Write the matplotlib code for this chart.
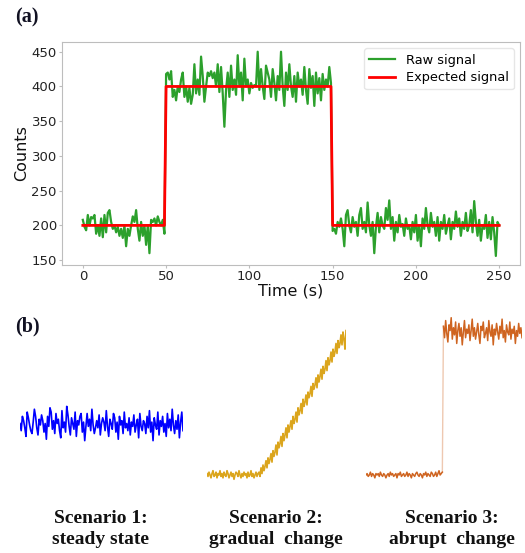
import numpy as np
import matplotlib
matplotlib.use("Agg")
import matplotlib.pyplot as plt

W, H = 525, 553

# ---- panel (a) data: counts per second ----
raw_counts = [
  208,198,193,215,200,212,210,215,188,200,
  185,210,183,215,190,218,222,205,195,200,
  190,198,185,195,182,200,170,195,185,200,
  213,205,222,195,178,205,185,200,172,200,
  160,208,205,210,200,213,205,200,208,188,
  418,420,410,422,385,395,380,400,392,410,
  420,385,400,378,398,375,388,432,390,410,
  388,443,415,378,400,420,415,422,412,420,
  400,432,392,428,390,342,395,420,385,430,
  395,410,388,445,400,420,380,440,400,410,
  390,405,398,402,400,450,395,425,400,382,
  430,420,410,385,425,405,380,415,395,450,
  400,372,420,395,432,400,385,415,378,420,
  400,410,388,428,395,375,425,398,415,372,
  420,390,412,380,418,395,410,400,428,405,
  192,195,188,205,198,210,195,170,215,222,
  200,190,212,198,205,185,215,225,195,205,
  190,233,200,185,205,160,198,218,190,212,
  200,195,225,208,236,195,212,178,205,190,
  215,198,202,185,210,195,200,180,205,190,
  215,178,200,170,210,195,225,200,190,218,
  198,205,185,212,178,205,195,215,188,200,
  210,180,205,195,220,198,210,185,205,195,
  218,192,200,222,190,235,205,185,208,178,
  200,195,215,182,205,180,212,190,156,205,
  200]
time_s = np.arange(len(raw_counts))

expected_t = [0, 49, 50, 149, 150, 250]
expected_counts = [200, 200, 400, 400, 200, 200]

xticks = [0, 50, 100, 150, 200, 250]
yticks = [150, 200, 250, 300, 350, 400, 450]

# ---- panel (b) data: three scenario traces (arbitrary level units) ----
steady = [36,31,41,38,33,27,44,40,35,31,29,37,46,41,33,28,39,35,42,38,
          30,36,25,41,34,47,44,32,38,29,43,36,39,31,26,45,33,37,30,48,
          42,34,28,40,36,32,44,27,38,35,41,43,30,37,24,34,43,34,39,31,
          46,35,29,33,38,33,42,28,36,40,37,31,45,34,27,39,36,32,43,40,
          30,37,25,41,35,38,29,44,33,36,31,40,28,37,34,42,30,35,39,26,
          43,34,31,38,36,29,41,33,45,30,37,24,40,35,32,44,28,38,34,41,
          30,36,27,43,33,39,31,46,35,29,38,32,42,26,37,44,31]

gradual = [1,-1,2,0,-2,1,3,-1,0,2,-2,1,0,3,-1,1,-2,2,0,-1,
           3,1,-2,0,2,-1,1,-3,0,2,1,-1,3,0,-2,1,-1,2,0,1,
           -2,2,-1,0,3,-1,1,-2,0,2,-1,1,
           2,-1,5,1,7,3,6,10,5,12,8,11,15,9,17,13,16,21,14,23,
           19,22,27,20,29,24,28,33,26,35,30,34,38,32,41,36,39,44,37,47,
           42,45,50,43,53,48,51,56,49,58,54,57,62,55,64,60,63,68,61,70,
           65,69,74,67,76,71,74,80,73,82,77,80,86,79,88,83,86,92,85,94,
           89,92,98,91,100,95,88,101]

abrupt_low = [0,1,-1,0,2,-1,1,0,-2,1,0,1,-1,2,0,-1,1,0,-2,0,
              1,-1,2,0,1,-1,0,1,-2,1,0,2,-1,0,1,-1,0,2,-1,1,
              0,-2,1,0,-1,1,2,0,-1,1,0,-2,1,0,2,-1,1,0,-1,2,
              1,-1,0,2,-1,1,3,0,1,2]
abrupt_high = [104,96,108,99,93,105,101,110,95,103,98,107,92,101,106,97,103,91,100,108,
               96,102,99,105,94,101,109,97,103,95,100,106,98,92,104,101,107,96,99,103,
               94,108,100,97,105,91,102,98,106,100,95,104,99,109,96,101,93,105,100,98,
               107,95,102,99,104,92,101,97,106,99,103,96]

scenario_labels = ["Scenario 1:\nsteady state",
                   "Scenario 2:\ngradual  change",
                   "Scenario 3:\nabrupt  change"]


def px_axes(fig, x0, y0, x1, y1):
  # pixel box (top-left origin) -> figure axes
  return fig.add_axes([x0 / W, 1 - y1 / H, (x1 - x0) / W, (y1 - y0) / H])


fig = plt.figure(figsize=(W / 100, H / 100), dpi=100)

# ---------------- (a) ----------------
ax = px_axes(fig, 62, 42, 520, 265)
ax.plot(time_s, raw_counts, color="#2ca02c", lw=1.6, label="Raw signal")
ax.plot(expected_t, expected_counts, color="red", lw=2, label="Expected signal")
ax.set_xlim(-12.5, 262.5)
ax.set_ylim(143, 464)
ax.set_xticks(xticks)
ax.set_yticks(yticks)
for s in ax.spines.values():
  s.set_color("#bdbdbd")
ax.tick_params(colors="#bdbdbd", labelcolor="#222222", labelsize=9.5,
               length=2.5, pad=1.2)
ax.set_xlabel("Time (s)", fontsize=11.5, color="#111111", labelpad=0.5)
ax.set_ylabel("Counts", fontsize=11.5, color="#111111", labelpad=2)
leg = ax.legend(loc="upper right", fontsize=9.3, handlelength=2.0,
                borderpad=0.4, labelspacing=0.35)
leg.get_frame().set_edgecolor("#e0e0e0")

fig.text(15 / W, 1 - 17 / H, "(a)", family="Liberation Serif", weight="bold",
         fontsize=14.5, va="center", ha="left", color="#111122")
fig.text(15 / W, 1 - 326 / H, "(b)", family="Liberation Serif", weight="bold",
         fontsize=14.5, va="center", ha="left", color="#111122")

# ---------------- (b) ----------------
ylo, yhi = (475 - 500) / 1.43, (475 - 300) / 1.43

a1 = px_axes(fig, 20, 300, 183, 500)
a1.plot(np.arange(len(steady)), steady, color="#0000ff", lw=1.2)
a1.set_xlim(0, len(steady) - 1)

a2 = px_axes(fig, 207, 300, 346, 500)
a2.plot(np.arange(len(gradual)), gradual, color="#dba51c", lw=1.2)
a2.set_xlim(0, len(gradual) - 1)

a3 = px_axes(fig, 366, 300, 522, 500)
n_low = len(abrupt_low)
x_low = np.arange(n_low)
x_high = np.arange(n_low, n_low + len(abrupt_high))
a3.plot(x_low, abrupt_low, color="#cf6420", lw=1.1)
a3.plot([x_low[-1], x_high[0]], [abrupt_low[-1], abrupt_high[0]],
        color="#cf6420", lw=1.0, alpha=0.35)
a3.plot(x_high, abrupt_high, color="#cf6420", lw=1.1)
a3.set_xlim(0, x_high[-1])

for a in (a1, a2, a3):
  a.set_ylim(ylo, yhi)
  a.axis("off")

for cx, lab in zip([101, 276, 452], scenario_labels):
  fig.text(cx / W, 1 - 529 / H, lab, family="Liberation Serif", weight="bold",
           fontsize=14, ha="center", va="center", linespacing=1.25, color="#111111")

fig.savefig("out.png", dpi=100)
